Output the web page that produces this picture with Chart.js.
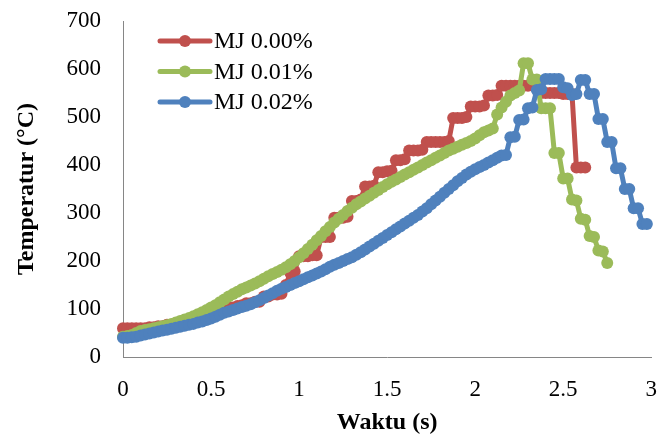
<!DOCTYPE html>
<html>
<head>
<meta charset="utf-8">
<script src="https://cdn.jsdelivr.net/npm/chart.js@4.4.1/dist/chart.umd.min.js"></script>
<style>
  html, body { margin: 0; padding: 0; background: #fff; }
</style>
</head>
<body>
<canvas id="tempChart" width="660" height="438"></canvas>
<script>
// Waktu (s), sampled every 0.025 s
const timeSec = [
    0, 0.025, 0.05, 0.075, 0.1, 0.125, 0.15, 0.175,
    0.2, 0.225, 0.25, 0.275, 0.3, 0.325, 0.35, 0.375,
    0.4, 0.425, 0.45, 0.475, 0.5, 0.525, 0.55, 0.575,
    0.6, 0.625, 0.65, 0.675, 0.7, 0.725, 0.75, 0.775,
    0.8, 0.825, 0.85, 0.875, 0.9, 0.925, 0.95, 0.975,
    1.0, 1.025, 1.05, 1.075, 1.1, 1.125, 1.15, 1.175,
    1.2, 1.225, 1.25, 1.275, 1.3, 1.325, 1.35, 1.375,
    1.4, 1.425, 1.45, 1.475, 1.5, 1.525, 1.55, 1.575,
    1.6, 1.625, 1.65, 1.675, 1.7, 1.725, 1.75, 1.775,
    1.8, 1.825, 1.85, 1.875, 1.9, 1.925, 1.95, 1.975,
    2.0, 2.025, 2.05, 2.075, 2.1, 2.125, 2.15, 2.175,
    2.2, 2.225, 2.25, 2.275, 2.3, 2.325, 2.35, 2.375,
    2.4, 2.425, 2.45, 2.475, 2.5, 2.525, 2.55, 2.575,
    2.6, 2.625, 2.65, 2.675, 2.7, 2.725, 2.75, 2.775,
    2.8, 2.825, 2.85, 2.875, 2.9, 2.925, 2.95, 2.975
];

// Temperatur (°C)
const tempMJ000 = [
    60, 60, 60, 60, 60, 60, 62, 62,
    64, 64, 67, 67, 70, 70, 74, 74,
    78, 78, 84, 84, 90, 90, 98, 98,
    103, 103, 106, 108, 112, 112, 115, 115,
    126, 126, 130, 130, 132, 150, 175, 178,
    210, 210, 210, 212, 212, 250, 250, 250,
    290, 290, 290, 292, 325, 325, 328, 355,
    355, 357, 385, 385, 387, 388, 410, 410,
    412, 430, 430, 430, 432, 448, 448, 448,
    448, 448, 450, 498, 498, 498, 500, 522,
    522, 522, 524, 545, 545, 546, 565, 565,
    565, 565, 565, 565, 565, 566, 560, 550,
    550, 550, 550, 550, 548, 548, 548, 395,
    395, 395
];

const tempMJ001 = [
    42, 44, 46, 50, 54, 56, 58, 60,
    62, 64, 66, 69, 72, 75, 78, 81,
    85, 89, 93, 98, 103, 108, 114, 120,
    126, 131, 136, 141, 145, 149, 153, 158,
    163, 168, 173, 177, 182, 187, 193, 200,
    208, 216, 225, 234, 243, 252, 262, 271,
    280, 288, 296, 304, 311, 318, 324, 330,
    336, 342, 348, 354, 360, 365, 370, 375,
    380, 385, 390, 395, 400, 405, 410, 415,
    420, 425, 430, 434, 438, 442, 446, 450,
    455, 462, 468, 472, 476, 505, 520, 532,
    545, 550, 555, 612, 612, 578, 578, 518,
    518, 518, 425, 425, 372, 372, 328, 326,
    288, 286, 252, 250, 222, 220, 196
];

const tempMJ002 = [
    40, 40, 41, 42, 45, 47, 49, 51,
    53, 55, 57, 59, 61, 63, 65, 67,
    69, 72, 74, 77, 80, 84, 88, 92,
    95, 98, 101, 104, 107, 110, 114, 118,
    123, 128, 133, 138, 142, 146, 150, 154,
    158, 162, 166, 170, 174, 178, 183, 188,
    192, 196, 200, 204, 208, 213, 218, 224,
    230, 236, 242, 248, 254, 260, 266, 272,
    278, 284, 290, 296, 303, 310, 318, 326,
    334, 342, 350, 358, 366, 373, 380, 386,
    391, 396, 400, 405, 410, 415, 420, 421,
    458, 459, 494, 495, 518, 520, 556, 558,
    579, 579, 579, 579, 562, 560, 546, 548,
    577, 577, 548, 548, 496, 496, 448, 448,
    393, 393, 350, 350, 310, 310, 277, 277
];

const seriesNames = ['MJ 0.00%', 'MJ 0.01%', 'MJ 0.02%'];

function toPoints(values) {
    return values.map((v, i) => ({ x: timeSec[i], y: v }));
}

function seriesStyle(color, order) {
    return {
        borderColor: color,
        backgroundColor: color,
        pointBackgroundColor: color,
        pointBorderWidth: 0,
        pointRadius: 6,
        borderWidth: 5,
        tension: 0,
        clip: false,
        order: order
    };
}

// legend drawn inside the plot, like the original
const insideLegend = {
    id: 'insideLegend',
    afterDraw(chart) {
        const ctx = chart.ctx;
        const area = chart.chartArea;
        const x0 = area.left + 37;
        const y0 = area.top + 20;
        ctx.save();
        ctx.font = '24px "Liberation Serif"';
        ctx.textBaseline = 'middle';
        ctx.textAlign = 'left';
        chart.data.datasets.forEach((ds, i) => {
            const y = y0 + i * 30.5;
            ctx.strokeStyle = ds.borderColor;
            ctx.lineWidth = 5;
            ctx.lineCap = 'round';
            ctx.beginPath();
            ctx.moveTo(x0, y);
            ctx.lineTo(x0 + 50, y);
            ctx.stroke();
            ctx.fillStyle = ds.borderColor;
            ctx.beginPath();
            ctx.arc(x0 + 25, y, 6, 0, Math.PI * 2);
            ctx.fill();
            ctx.fillStyle = '#000';
            ctx.fillText(ds.label, x0 + 54, y + 1);
        });
        ctx.restore();
    }
};

document.addEventListener('DOMContentLoaded', function () {
    Chart.defaults.font.family = '"Liberation Serif", "Times New Roman", serif';
    Chart.defaults.color = '#000';

    const ctx = document.getElementById('tempChart');
    new Chart(ctx, {
        type: 'line',
        data: {
            datasets: [
                Object.assign({ label: seriesNames[0], data: toPoints(tempMJ000) }, seriesStyle('#C0504D', 2)),
                Object.assign({ label: seriesNames[1], data: toPoints(tempMJ001) }, seriesStyle('#9BBB59', 1)),
                Object.assign({ label: seriesNames[2], data: toPoints(tempMJ002) }, seriesStyle('#4F81BD', 0))
            ]
        },
        options: {
            responsive: false,
            animation: false,
            layout: { padding: { left: 0, right: 4, top: 21, bottom: 0 } },
            plugins: {
                legend: { display: false },
                tooltip: { enabled: false }
            },
            scales: {
                x: {
                    type: 'linear',
                    min: 0,
                    max: 3,
                    // tick marks hidden, tickLength only spaces the labels
                    grid: { display: false, drawTicks: true, tickLength: 16 },
                    border: { display: true, color: '#868686', width: 1 },
                    ticks: {
                        stepSize: 0.5,
                        font: { size: 23 },
                        padding: 3,
                        color: '#000',
                        callback: (value) => String(value)
                    },
                    title: {
                        display: true,
                        text: 'Waktu (s)',
                        font: { size: 24, weight: 'bold' },
                        padding: { top: 0, bottom: 1 }
                    },
                    afterFit(scale) { scale.height = 81; }
                },
                y: {
                    min: 0,
                    max: 700,
                    grid: { display: false, drawTicks: true, tickLength: 19 },
                    border: { display: true, color: '#868686', width: 1 },
                    ticks: { stepSize: 100, font: { size: 23 }, padding: 3, color: '#000' },
                    title: {
                        display: true,
                        text: 'Temperatur (°C)',
                        font: { size: 24, weight: 'bold' },
                        padding: { top: 12, bottom: 0 }
                    },
                    afterFit(scale) { scale.width = 123; }
                }
            }
        },
        plugins: [insideLegend]
    });
});
</script>
</body>
</html>
